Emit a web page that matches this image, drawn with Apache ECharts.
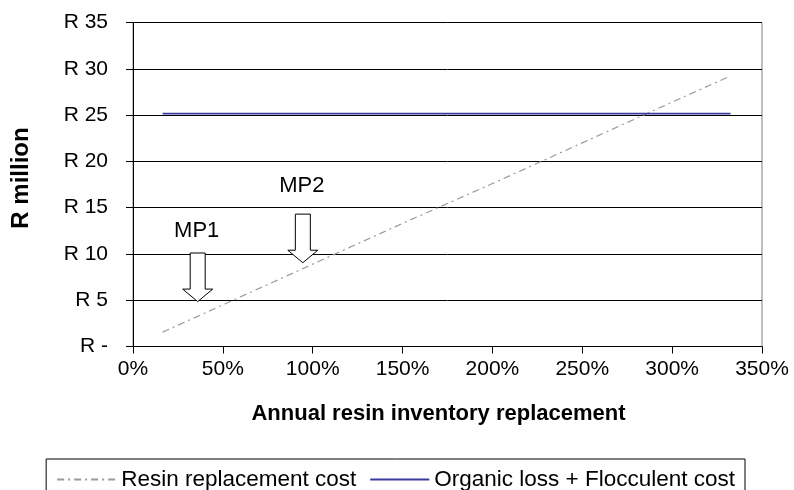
<!DOCTYPE html>
<html>
<head>
<meta charset="utf-8">
<script src="https://cdn.jsdelivr.net/npm/echarts@6/dist/echarts.min.js"></script>
<style>
  html, body { margin: 0; padding: 0; background: #fff; }
  #chart { width: 794px; height: 490px; }
</style>
</head>
<body>
<div id="chart"></div>
<script>
// Annual resin inventory replacement (%) vs. cost (R million)
const resinX = [16.5, 50, 100, 150, 200, 250, 300, 331];
const resinCost = [1.55, 4.5, 8.9, 13.3, 17.6, 22.0, 26.4, 29.1];

const organicX = [16.5, 332.5];
const organicCost = [25.15, 25.15];

// Operating points: x %, arrow tip value, arrow tail value, label value, label
const mpX = [36, 94.5];
const mpTip = [4.85, 9.05];
const mpTail = [10.1, 14.3];
const mpLabelY = [12.5, 17.3];
const mpNames = ['MP1', 'MP2'];

const xTicks = { min: 0, max: 350, interval: 50 };
const yTicks = { min: 0, max: 35, interval: 5 };

const seriesNames = ['Resin replacement cost', 'Organic loss + Flocculent cost'];

const FONT = 'Liberation Sans, Arial, sans-serif';

const chart = echarts.init(document.getElementById('chart'), null, { renderer: 'canvas' });

const arrowData = mpX.map((x, i) => [x, mpTip[i], mpTail[i], mpLabelY[i]]);

chart.setOption({
  animation: false,
  backgroundColor: '#fff',
  textStyle: { fontFamily: FONT },
  grid: {
    left: 133, right: 32, top: 22.5, bottom: 143.5,
    show: true, borderColor: '#808080', borderWidth: 1, backgroundColor: 'transparent'
  },
  xAxis: {
    type: 'value',
    min: xTicks.min, max: xTicks.max, interval: xTicks.interval,
    name: 'Annual resin inventory replacement',
    nameLocation: 'middle',
    nameGap: 56,
    nameTextStyle: { fontFamily: FONT, fontSize: 22, fontWeight: 'bold', color: '#000', padding: [0, 18, 0, 0] },
    axisLine: { show: true, lineStyle: { color: '#000', width: 1 } },
    axisTick: { show: true, length: 7, lineStyle: { color: '#000' } },
    axisLabel: { formatter: v => v + '%', fontFamily: FONT, fontSize: 21, color: '#000', margin: 12 },
    splitLine: { show: false }
  },
  yAxis: {
    type: 'value',
    min: yTicks.min, max: yTicks.max, interval: yTicks.interval,
    name: 'R million',
    nameLocation: 'middle',
    nameRotate: 90,
    nameGap: 100,
    nameTextStyle: { fontFamily: FONT, fontSize: 24, fontWeight: 'bold', color: '#000', padding: [0, 0, 0, 13] },
    axisLine: { show: true, lineStyle: { color: '#000', width: 1 } },
    axisTick: { show: true, length: 7, lineStyle: { color: '#000' } },
    axisLabel: { formatter: v => (v === 0 ? 'R -' : 'R ' + v), fontFamily: FONT, fontSize: 21, color: '#000', margin: 25 },
    splitLine: { show: true, lineStyle: { color: '#000', width: 1 } }
  },
  legend: {
    data: seriesNames,
    right: 49, top: 459,
    orient: 'horizontal',
    backgroundColor: '#fff',
    borderColor: '#000', borderWidth: 1, borderRadius: 0,
    padding: [9, 10, 9, 10],
    itemGap: 13, itemWidth: 59, itemHeight: 14,
    itemStyle: { opacity: 0 },
    textStyle: { fontFamily: FONT, fontSize: 22.5, color: '#000', lineHeight: 22 }
  },
  series: [
    {
      name: seriesNames[0],
      type: 'line',
      data: resinX.map((x, i) => [x, resinCost[i]]),
      symbol: 'none',
      lineStyle: { color: '#9a9a9a', width: 1.2, type: [7, 4, 2, 4] },
      itemStyle: { color: '#9a9a9a' },
      z: 3
    },
    {
      name: seriesNames[1],
      type: 'line',
      data: organicX.map((x, i) => [x, organicCost[i]]),
      symbol: 'none',
      lineStyle: { color: '#3a3a9e', width: 1.8 },
      itemStyle: { color: '#3a3a9e' },
      z: 3
    },
    {
      type: 'custom',
      name: 'markers',
      data: arrowData,
      z: 5,
      renderItem: (params, api) => {
        const tip = api.coord([api.value(0), api.value(1)]);
        const tail = api.coord([api.value(0), api.value(2)]);
        const lab = api.coord([api.value(0), api.value(3)]);
        const x = tip[0];
        const sh = 7.5, hw = 15, hh = 12.5;
        const headY = tip[1] - hh;
        return {
          type: 'group',
          children: [
            {
              type: 'polygon',
              shape: {
                points: [
                  [x - sh, tail[1]], [x + sh, tail[1]], [x + sh, headY],
                  [x + hw, headY], [x, tip[1]], [x - hw, headY], [x - sh, headY]
                ]
              },
              style: { fill: '#fff', stroke: '#000', lineWidth: 1 }
            },
            {
              type: 'text',
              style: {
                x: x - 1, y: lab[1],
                text: mpNames[params.dataIndex],
                fontFamily: FONT, fontSize: 22, fill: '#000',
                align: 'center', verticalAlign: 'middle'
              }
            }
          ]
        };
      }
    }
  ]
});
</script>
</body>
</html>
